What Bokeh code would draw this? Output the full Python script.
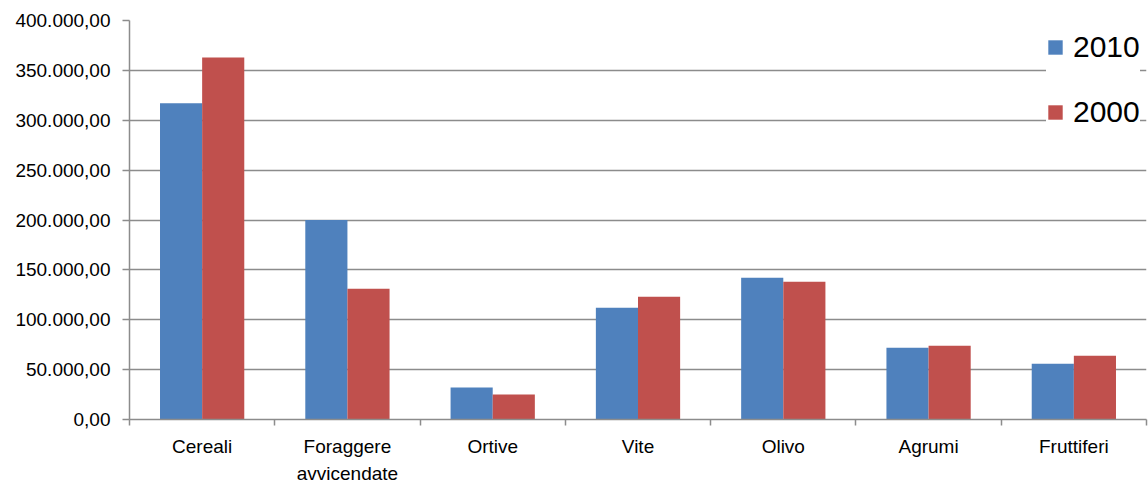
from bokeh.plotting import figure
from bokeh.models import Range1d, FixedTicker, Legend, LegendItem, ColumnDataSource
from bokeh.transform import dodge
from bokeh.embed import file_html
from bokeh.resources import INLINE

categories = ["Cereali", "Foraggere avvicendate", "Ortive", "Vite", "Olivo", "Agrumi", "Fruttiferi"]
category_labels = ["Cereali", "Foraggere\navvicendate", "Ortive", "Vite", "Olivo", "Agrumi", "Fruttiferi"]
values_2010 = [317000, 200000, 32000, 112000, 142000, 72000, 56000]
values_2000 = [363000, 131000, 25000, 123000, 138000, 74000, 64000]
series_names = ["2010", "2000"]
y_ticks = [0, 50000, 100000, 150000, 200000, 250000, 300000, 350000, 400000]

BLUE = "#4F81BD"
RED = "#C0504D"
GRID = "#8c8c8c"
FONT = "Liberation Sans"

n = len(categories)
xs = list(range(n))
source = ColumnDataSource(dict(x=xs, cat=categories, v2010=values_2010, v2000=values_2000))

p = figure(width=1148, height=486, output_backend="svg", toolbar_location=None,
           x_range=Range1d(-0.5, n - 0.5), y_range=Range1d(y_ticks[0], y_ticks[-1]),
           min_border_left=129, min_border_right=2, min_border_top=20, min_border_bottom=66)
p.outline_line_color = None
p.background_fill_color = "white"
p.border_fill_color = "white"

bw = 0.29
r1 = p.vbar(x=dodge("x", -bw / 2, range=p.x_range), top="v2010", width=bw, source=source,
            fill_color=BLUE, line_color=None)
r2 = p.vbar(x=dodge("x", bw / 2, range=p.x_range), top="v2000", width=bw, source=source,
            fill_color=RED, line_color=None)

# y axis
p.yaxis.ticker = FixedTicker(ticks=y_ticks)
p.yaxis.major_label_overrides = {
    t: f"{t:,.2f}".replace(",", "X").replace(".", ",").replace("X", ".") for t in y_ticks
}
p.yaxis.major_tick_out = 7
p.yaxis.major_tick_in = 0
p.yaxis.minor_tick_line_color = None
p.yaxis.axis_line_color = GRID
p.yaxis.axis_line_width = 1.5
p.yaxis.major_tick_line_color = GRID
p.yaxis.major_tick_line_width = 1.5
p.yaxis.major_label_standoff = 12
p.yaxis.major_label_text_font = FONT
p.yaxis.major_label_text_font_size = "19px"
p.yaxis.major_label_text_color = "#000000"

# x axis
boundaries = [i - 0.5 for i in range(n + 1)]
p.xaxis.ticker = FixedTicker(ticks=xs, minor_ticks=boundaries)
p.xaxis.major_label_overrides = {i: lab for i, lab in zip(xs, category_labels)}
p.xaxis.major_tick_out = 0
p.xaxis.major_tick_in = 0
p.xaxis.major_tick_line_color = None
p.xaxis.minor_tick_out = 6
p.xaxis.minor_tick_in = 0
p.xaxis.minor_tick_line_color = GRID
p.xaxis.minor_tick_line_width = 1.5
p.xaxis.axis_line_color = GRID
p.xaxis.axis_line_width = 1.5
p.xaxis.major_label_standoff = 10
p.xaxis.major_label_text_font = FONT
p.xaxis.major_label_text_font_size = "19px"
p.xaxis.major_label_text_color = "#000000"
p.xaxis.major_label_text_line_height = 1.3

p.xgrid.grid_line_color = None
p.ygrid.ticker = FixedTicker(ticks=y_ticks)
p.ygrid.grid_line_color = GRID
p.ygrid.grid_line_width = 1.5

legend = Legend(items=[LegendItem(label=series_names[0], renderers=[r1]),
                       LegendItem(label=series_names[1], renderers=[r2])],
                location=(917, 290))
legend.background_fill_color = "white"
legend.background_fill_alpha = 1.0
legend.border_line_color = None
legend.label_text_font = FONT
legend.label_text_font_size = "30px"
legend.label_text_color = "#000000"
legend.label_height = 30
legend.glyph_width = 18
legend.glyph_height = 18
legend.spacing = 31
legend.padding = 8
legend.margin = 0
legend.label_standoff = 9
p.add_layout(legend)

open("out.html", "w").write(file_html(p, INLINE))
